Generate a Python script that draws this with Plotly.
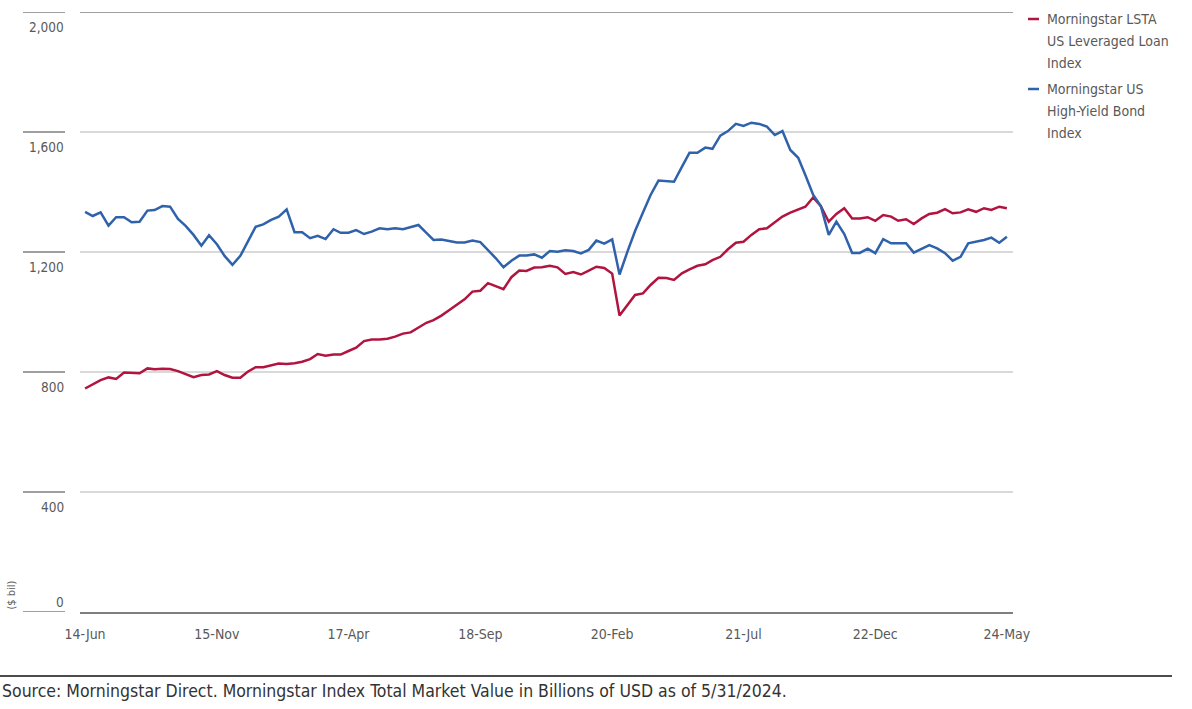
import pandas as pd
import plotly.graph_objects as go

# monthly, Jun 2014 .. May 2024
months = pd.date_range("2014-06-01", periods=120, freq="MS")
tick_labels = ["14-Jun", "15-Nov", "17-Apr", "18-Sep", "20-Feb", "21-Jul", "22-Dec", "24-May"]
y_ticks = [0, 400, 800, 1200, 1600, 2000]
y_tick_text = ["0", "400", "800", "1,200", "1,600", "2,000"]

loan_name = "Morningstar LSTA US Leveraged Loan Index"
hy_name = "Morningstar US High-Yield Bond Index"
legend_lines = [["Morningstar LSTA", "US Leveraged Loan", "Index"],
                ["Morningstar US", "High-Yield Bond", "Index"]]

loan = [745, 760, 773, 782, 777, 798, 796, 796, 812, 809, 811, 810, 803, 793, 783, 790, 792, 803, 790, 781,
        781, 801, 816, 816, 822, 828, 827, 829, 834, 843, 860, 854, 858, 858, 870, 881, 903, 908, 908,
        911, 918, 928, 932, 948, 964, 973, 988, 1006, 1023, 1042, 1068, 1071, 1096, 1087, 1076, 1116, 1138,
        1137, 1148, 1149, 1154, 1149, 1127, 1133,
        1125, 1138, 1151, 1147, 1128, 988, 1023, 1057, 1062, 1090, 1114, 1113, 1107, 1129, 1142, 1154, 1159,
        1173, 1184, 1209, 1231, 1234, 1257, 1276, 1279, 1298, 1318, 1331, 1342, 1351, 1382, 1353,
        1301, 1327, 1346, 1312, 1312, 1316, 1304, 1323, 1318, 1304, 1309, 1293, 1312, 1327, 1331, 1343,
        1329, 1332, 1342, 1334, 1346, 1340, 1351, 1346]

high_yield = [1334, 1320, 1332, 1288, 1316, 1316, 1299, 1301, 1338, 1340, 1353, 1351, 1310, 1287, 1257, 1221,
              1256, 1226, 1187, 1157, 1187, 1234, 1284, 1292, 1307, 1318, 1342, 1266, 1266, 1246, 1254, 1243,
              1276, 1264, 1264, 1273, 1260, 1268, 1279,
              1276, 1279, 1276, 1284, 1290, 1264, 1240, 1242, 1238, 1232, 1232, 1238, 1233, 1207, 1179, 1149,
              1171, 1188, 1188, 1192, 1181, 1203, 1201, 1206, 1203,
              1195, 1207, 1238, 1228, 1242, 1125, 1201, 1270, 1332, 1390, 1438, 1436, 1434, 1484, 1531, 1531,
              1548, 1544, 1588, 1603, 1627, 1620, 1631, 1627, 1618, 1590, 1603, 1540, 1514, 1457, 1390, 1353,
              1257, 1301, 1260, 1197, 1197, 1211, 1196, 1243, 1229, 1229, 1229, 1198, 1212, 1223, 1212, 1196,
              1171, 1184, 1229, 1234, 1240, 1248, 1231, 1251]

RED = "#b0143f"
BLUE = "#2f62ab"
FONT = "Liberation Sans Narrow, Arial Narrow, DejaVu Sans Condensed, sans-serif"
GREY = "#595959"

# plot area is 80..1013 px wide, 12..612 px tall
def px(p):
    return (p - 80) / 933

def py(p):
    return (612 - p) / 600

fig = go.Figure()
fig.add_trace(go.Scatter(x=months, y=loan, mode="lines", name=loan_name,
                         line=dict(color=RED, width=2.5)))
fig.add_trace(go.Scatter(x=months, y=high_yield, mode="lines", name=hy_name,
                         line=dict(color=BLUE, width=2.5)))

shapes = []
annotations = []

# short dark tick segments left of the gridlines + tick labels
for v, t in zip(y_ticks, y_tick_text):
    shapes.append(dict(type="line", xref="paper", yref="y", x0=px(23), x1=px(65), y0=v, y1=v,
                       line=dict(color="#7f7f7f", width=1.5)))
    annotations.append(dict(xref="paper", yref="y", x=px(66), y=v, text=t, showarrow=False,
                            xanchor="right", yanchor="middle", yshift=10 if v == 0 else -15,
                            font=dict(family=FONT, size=13.5, color=GREY)))

# top line is darker
shapes.append(dict(type="line", xref="paper", yref="y", x0=0, x1=1, y0=2000, y1=2000,
                   line=dict(color="#7f7f7f", width=1.5)))

annotations.append(dict(xref="paper", yref="y", x=px(11), y=0, text="($ bil)", textangle=-90,
                        showarrow=False, xanchor="center", yanchor="bottom",
                        font=dict(family=FONT, size=11, color=GREY)))

# legend drawn by hand
for k, (lines, col) in enumerate(zip(legend_lines, [RED, BLUE])):
    top = 19 + k * 70
    shapes.append(dict(type="line", xref="paper", yref="paper", x0=px(1028), x1=px(1039),
                       y0=py(top), y1=py(top), line=dict(color=col, width=2.5)))
    for j, s in enumerate(lines):
        annotations.append(dict(xref="paper", yref="paper", x=px(1045), y=py(top + 22 * j), text=s,
                                showarrow=False, xanchor="left", yanchor="middle",
                                font=dict(family=FONT, size=14, color=GREY)))

# source line
shapes.append(dict(type="line", xref="paper", yref="paper", x0=px(0), x1=px(1172),
                   y0=py(676), y1=py(676), line=dict(color="#111111", width=1.5)))
annotations.append(dict(xref="paper", yref="paper", x=px(0), y=py(691),
                        text="Source: Morningstar Direct. Morningstar Index Total Market Value in Billions of USD as of 5/31/2024.",
                        showarrow=False, xanchor="left", yanchor="middle",
                        font=dict(family=FONT, size=17.5, color="#333333")))

fig.update_layout(
    width=1192, height=709,
    margin=dict(l=80, r=179, t=12, b=97),
    paper_bgcolor="white", plot_bgcolor="white",
    showlegend=False,
    shapes=shapes, annotations=annotations,
    xaxis=dict(range=[months[0] - pd.Timedelta(days=20), months[-1] + pd.Timedelta(days=24)],
               tickvals=list(months[::17]), ticktext=tick_labels,
               showgrid=False, zeroline=False, showline=True, linecolor="#7f7f7f", linewidth=1.5,
               ticks="", ticklabelstandoff=8,
               tickfont=dict(family=FONT, size=14, color=GREY)),
    yaxis=dict(range=[0, 2000], tickvals=y_ticks, showticklabels=False,
               showgrid=True, gridcolor="#d9d9d9", gridwidth=1.5, zeroline=False),
)

fig.write_html("out.html", config={"displayModeBar": False},
               post_script="document.body.style.margin='0';")
